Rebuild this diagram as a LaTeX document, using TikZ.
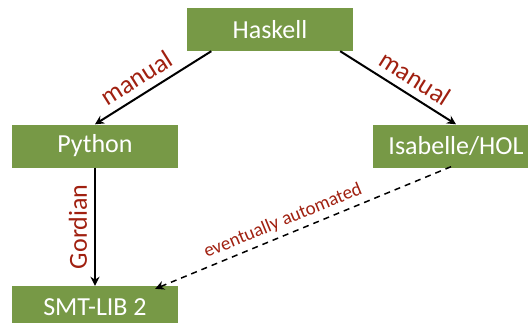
\documentclass[tikz,border=0pt]{standalone}
\usepackage{fontspec}
\setmainfont{Carlito}
\usetikzlibrary{arrows.meta}
\definecolor{boxgreen}{RGB}{119,153,70}
\definecolor{labelred}{RGB}{160,32,16}
\begin{document}
\begin{tikzpicture}[x=1pt,y=-1pt,
  lang/.style={fill=boxgreen,text=white,minimum width=166pt,minimum height=43pt,inner sep=0pt,
    font=\fontsize{26}{30}\selectfont},
  conn/.style={line width=2pt,-{Stealth[length=9pt,width=9pt]}},
  dconn/.style={line width=1.5pt,dash pattern=on 6pt off 5pt,-{Stealth[length=9pt,width=9pt]}},
  lbl/.style={text=labelred,font=\fontsize{26}{30}\selectfont,inner xsep=2pt,inner ysep=7pt},
  slbl/.style={text=labelred,font=\fontsize{19}{23}\selectfont,inner xsep=1.5pt,inner ysep=5pt}]
\useasboundingbox (0,0) rectangle (528,322);
\node[lang] (hs) at (270,29.5) {Haskell};
\node[lang] (py) at (95,146) {Python};
\node[lang] (isa) at (456,146) {Isabelle/HOL};
\node[lang] (smt) at (95,307.5) {SMT-LIB 2};
\draw[conn] ([xshift=24.5pt]hs.south west) -- (py.north)
  node[lbl,pos=0.565,sloped,above] {manual};
\draw[conn] ([xshift=-13pt]hs.south east) -- (isa.north)
  node[lbl,pos=0.57,sloped,above] {manual};
\draw[conn] (py.south) -- (smt.north)
  node[lbl,pos=0.5,rotate=90,anchor=south] {Gordian};
\draw[dconn] ([xshift=-5pt,yshift=1pt]isa.south) -- ([xshift=-23pt,yshift=-3pt]smt.north east)
  node[slbl,pos=0.55,sloped,above] {eventually automated};
\end{tikzpicture}
\end{document}
